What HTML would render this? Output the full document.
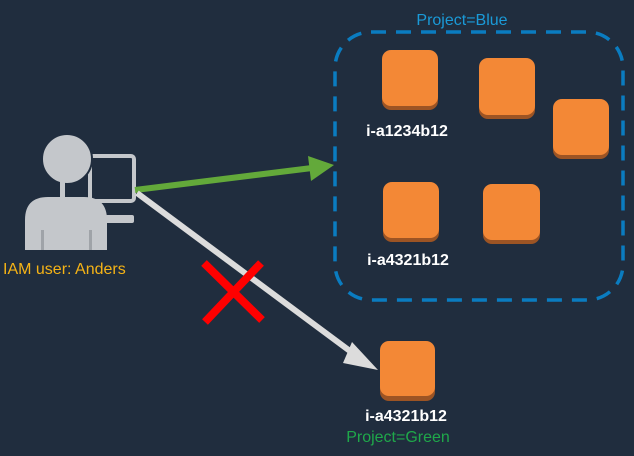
<!DOCTYPE html>
<html><head><style>
html,body{margin:0;padding:0;background:#202d3e;}
svg{display:block}
</style></head><body>
<svg width="634" height="456" viewBox="0 0 634 456" xmlns="http://www.w3.org/2000/svg" font-family="Liberation Sans, sans-serif">
<rect width="634" height="456" fill="#202d3e"/>
<rect x="335" y="32" width="288" height="268" rx="36" fill="none" stroke="#0a7cc0" stroke-width="3.5" stroke-dasharray="15 10"/>
<text x="462" y="25" fill="#1a9ad8" font-size="16" text-anchor="middle">Project=Blue</text>
<g>
<g transform="translate(382,50)"><rect y="3" width="56" height="57" rx="9" fill="#9c5424"/><rect width="56" height="56" rx="9" fill="#f38836"/></g>
<g transform="translate(479,58)"><rect y="3" width="56" height="58" rx="9" fill="#9c5424"/><rect width="56" height="57" rx="9" fill="#f38836"/></g>
<g transform="translate(553,99)"><rect y="3" width="56" height="57" rx="9" fill="#9c5424"/><rect width="56" height="56" rx="9" fill="#f38836"/></g>
<g transform="translate(383,182)"><rect y="3" width="56" height="57" rx="9" fill="#9c5424"/><rect width="56" height="56" rx="9" fill="#f38836"/></g>
<g transform="translate(483,184)"><rect y="3" width="57" height="57" rx="9" fill="#9c5424"/><rect width="57" height="56" rx="9" fill="#f38836"/></g>
<g transform="translate(380,341)"><rect y="3" width="55" height="57" rx="9" fill="#9c5424"/><rect width="55" height="55" rx="9" fill="#f38836"/></g>
</g>
<g fill="#fff" font-size="16" font-weight="bold" text-anchor="middle">
<text x="407" y="136">i-a1234b12</text>
<text x="408" y="265">i-a4321b12</text>
<text x="406" y="421">i-a4321b12</text>
</g>
<text x="398" y="442" fill="#1fa84a" font-size="16" text-anchor="middle">Project=Green</text>
<!-- person -->
<g fill="#c4c7cb">
<rect x="90" y="156" width="44" height="45" rx="3" fill="none" stroke="#c4c7cb" stroke-width="4"/>
<rect x="105" y="215" width="29" height="8" rx="2"/>
<circle cx="67" cy="159" r="25" fill="#c4c7cb" stroke="#202d3e" stroke-width="2"/>
<rect x="60" y="180" width="5" height="18"/>
<path d="M25 250 V220 Q25 197 48 197 H84 Q107 197 107 220 V250 Z"/>
<rect x="41" y="230" width="3" height="20" fill="#9fa3a8"/>
<rect x="89" y="230" width="3" height="20" fill="#9fa3a8"/>
</g>
<text x="3" y="274" fill="#f5b316" font-size="16">IAM user: Anders</text>
<!-- arrows -->
<line x1="135" y1="190" x2="312" y2="168" stroke="#63a93a" stroke-width="6"/>
<polygon points="334,165 308,156 311,181" fill="#63a93a"/>
<line x1="137" y1="193" x2="358" y2="357" stroke="#dcdcdc" stroke-width="6"/>
<polygon points="378,370 352,342 343,363" fill="#dcdcdc"/>
<g stroke="#f00" stroke-width="8">
<line x1="204" y1="263" x2="262" y2="320"/>
<line x1="261" y1="263" x2="205" y2="322"/>
</g>
</svg>
</body></html>
